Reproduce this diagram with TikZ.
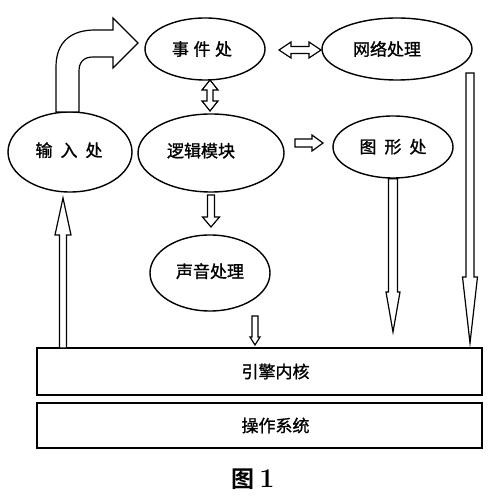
\documentclass[tikz,border=0pt]{standalone}
\usepackage{fontspec}
\newfontfamily\cjk{Noto Sans CJK SC}[FakeBold=1.2]
\newfontfamily\cjkb{Noto Sans CJK SC}[UprightFont=* Bold]
\usetikzlibrary{calc,shapes.geometric}
% hollow block arrow from #1 to #2: shaft half-width #3, head half-width #4, head length #5
\newcommand\harrow[5]{%
  \coordinate (hb) at ($(#2)!#5!(#1)$);
  \draw[harr] ($(#1)!#3!90:(#2)$) -- ($(hb)!#3!90:(#2)$) -- ($(hb)!#4!90:(#2)$) -- (#2)
    -- ($(hb)!#4!-90:(#2)$) -- ($(hb)!#3!-90:(#2)$) -- ($(#1)!#3!-90:(#2)$) -- cycle;}
% hollow double-headed block arrow
\newcommand\hdarrow[5]{%
  \coordinate (ha) at ($(#1)!#5!(#2)$);
  \coordinate (hb) at ($(#2)!#5!(#1)$);
  \draw[harr] (#1) -- ($(ha)!#4!90:(#2)$) -- ($(ha)!#3!90:(#2)$) -- ($(hb)!#3!90:(#2)$)
    -- ($(hb)!#4!90:(#2)$) -- (#2) -- ($(hb)!#4!-90:(#2)$) -- ($(hb)!#3!-90:(#2)$)
    -- ($(ha)!#3!-90:(#2)$) -- ($(ha)!#4!-90:(#2)$) -- cycle;}
\newcommand\offt[3]{\makebox[0pt]{\hspace*{#1}\hspace*{#1}\raisebox{#2}{#3}}}
\begin{document}
\begin{tikzpicture}[x=1pt,y=1pt,
  ell/.style={draw, ellipse, line width=1.4pt, inner sep=0pt, font=\cjk\fontsize{17}{17}\selectfont},
  layer/.style={draw, rectangle, line width=1.6pt, inner sep=0pt, font=\cjk\fontsize{17}{17}\selectfont},
  harr/.style={draw, line width=1.2pt, fill=white, line join=miter}]
\useasboundingbox (0,0) rectangle (500,503);
% ellipses
\node[ell, minimum width=120pt, minimum height=62pt] (ev) at (205,454) {\offt{-3pt}{-2pt}{事\hspace{4.5pt}件\hspace{4.5pt}处}};
\node[ell, minimum width=150pt, minimum height=62pt] (net) at (397,454) {\offt{-10pt}{1pt}{网络处理}};
\node[ell, minimum width=124pt, minimum height=80pt] (inp) at (70,351) {\offt{-1pt}{5pt}{输\hspace{8pt}入\hspace{8pt}处}};
\node[ell, minimum width=146pt, minimum height=78pt] (logic) at (211,350) {\offt{-10pt}{6pt}{逻辑模块}};
\node[ell, minimum width=120pt, minimum height=62pt] (gfx) at (393,356) {\offt{0pt}{2pt}{图\hspace{8pt}形\hspace{8pt}处}};
\node[ell, minimum width=120pt, minimum height=76pt] (snd) at (210,230) {\offt{0pt}{5pt}{声音处理}};
% layers
\node[layer, minimum width=445pt, minimum height=47pt] (kernel) at (259.5,131.5) {\offt{16pt}{0pt}{引擎内核}};
\node[layer, minimum width=445pt, minimum height=45pt] (os) at (259.5,77.5) {\offt{16pt}{0pt}{操作系统}};
% caption
\node (cap) at (253,24) {\fontsize{23}{23}\selectfont\cjkb 图\hspace{5pt}\rmfamily\bfseries\fontsize{27}{27}\selectfont 1};
% curved arrow from input to event
\draw[harr] (56,391) -- (56,436) .. controls (56,462) and (72,473) .. (95,473) -- (113,473)
  -- (113,485) -- (138,460) -- (113,435) -- (113,446) -- (93,446)
  .. controls (84,446) and (79,441) .. (79,432) -- (79,391) -- cycle;
% straight arrows
\coordinate (u1) at (63,155); \coordinate (u2) at (63,305);
\harrow{u1}{u2}{3.5pt}{8pt}{37pt}
\coordinate (g1) at (gfx.south); \coordinate (g2) at (393,171);
\harrow{g1}{g2}{4.5pt}{7pt}{40pt}
\coordinate (n1) at (470,430); \coordinate (n2) at (470,160);
\harrow{n1}{n2}{4pt}{7.5pt}{66pt}
\coordinate (s1) at (255,187); \coordinate (s2) at (255,158);
\harrow{s1}{s2}{3pt}{5pt}{8pt}
\coordinate (d1) at (210,423); \coordinate (d2) at (210,392);
\hdarrow{d1}{d2}{3pt}{8pt}{10pt}
\coordinate (h1) at (279,453); \coordinate (h2) at (321,453);
\hdarrow{h1}{h2}{3.5pt}{8pt}{12pt}
\coordinate (r1) at (295,360); \coordinate (r2) at (323,360);
\harrow{r1}{r2}{4pt}{8pt}{11pt}
\coordinate (l1) at (211,308); \coordinate (l2) at (211,276);
\harrow{l1}{l2}{3.5pt}{8.5pt}{10pt}
\end{tikzpicture}
\end{document}
